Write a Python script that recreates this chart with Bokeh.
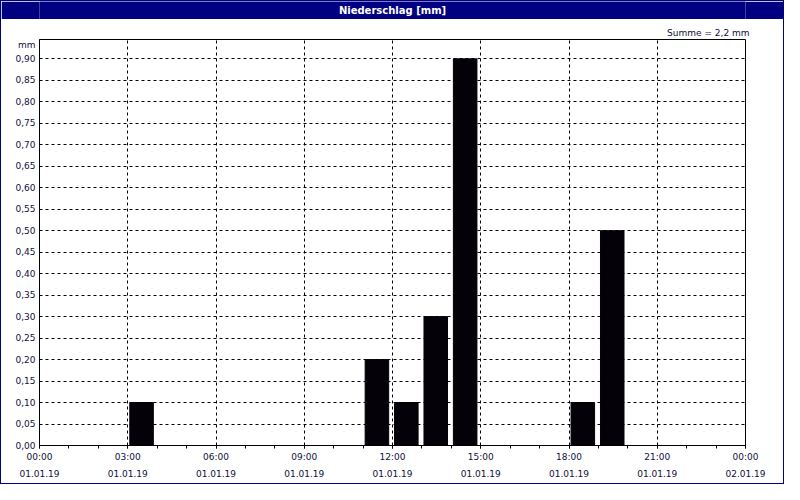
from bokeh.plotting import figure
from bokeh.models import Range1d, FixedTicker, Label
from bokeh.layouts import column
from bokeh.embed import file_html
from bokeh.resources import INLINE

# ---- data ----
hour_start = [3, 11, 12, 13, 14, 18, 19]          # start hour of each hourly interval
precip_mm = [0.10, 0.20, 0.10, 0.30, 0.90, 0.10, 0.50]

x_ticks = [0, 3, 6, 9, 12, 15, 18, 21, 24]
x_time_labels = ["00:00", "03:00", "06:00", "09:00", "12:00", "15:00", "18:00", "21:00", "00:00"]
x_date_labels = ["01.01.19"] * 8 + ["02.01.19"]
minor_hours = list(range(0, 25))

y_ticks = [round(i * 0.05, 2) for i in range(19)]
y_labels = [f"{v:.2f}".replace(".", ",") for v in y_ticks]

title_text = "Niederschlag [mm]"
unit_text = "mm"
unit_pos = 0.933

FONT = "DejaVu Sans"
TXT = "#10103a"
NAVY = "#000080"
BAR = "#040208"

# ---- title bar ----
t = figure(width=782, height=18, x_range=Range1d(0, 1), y_range=Range1d(0, 1),
           x_axis_type=None, y_axis_type=None, toolbar_location=None,
           output_backend="svg", min_border=0,
           background_fill_color=NAVY, border_fill_color=NAVY, outline_line_color=None)
t.xgrid.visible = False
t.ygrid.visible = False
t.add_layout(Label(x=0.5, y=0.5, text=title_text, text_align="center", text_baseline="middle",
                   text_color="white", text_font=FONT, text_font_size="10px",
                   text_font_style="bold"))

# ---- main chart ----
total = sum(precip_mm)
sum_text = "Summe = " + f"{total:.1f}".replace(".", ",") + " mm"

p = figure(width=782, height=464, x_range=Range1d(0, 24), y_range=Range1d(0, 0.945),
           toolbar_location=None, output_backend="svg",
           min_border_left=38, min_border_right=38, min_border_top=20, min_border_bottom=38,
           background_fill_color="white", border_fill_color="white",
           outline_line_color="black", outline_line_width=1)

p.title.text = sum_text
p.title.align = "right"
p.title.offset = -4
p.title.standoff = 4
p.title.text_font = FONT
p.title.text_font_size = "9px"
p.title.text_font_style = "normal"
p.title.text_color = TXT

centers = [h + 0.47 for h in hour_start]
p.vbar(x=centers, top=precip_mm, width=0.8, bottom=0, fill_color=BAR, line_color=BAR)

# x axis
p.xaxis.ticker = FixedTicker(ticks=x_ticks, minor_ticks=minor_hours)
p.xaxis.major_label_overrides = {tk: f"{a}\n{b}" for tk, a, b in zip(x_ticks, x_time_labels, x_date_labels)}
p.xaxis.major_tick_in = 0
p.xaxis.major_tick_out = 3
p.xaxis.minor_tick_in = 0
p.xaxis.minor_tick_out = 3
p.xaxis.major_tick_line_color = "black"
p.xaxis.minor_tick_line_color = "black"
p.xaxis.axis_line_color = "black"
p.xaxis.major_label_standoff = 3
p.xaxis.major_label_text_font = FONT
p.xaxis.major_label_text_font_size = "9px"
p.xaxis.major_label_text_color = TXT
p.xaxis.major_label_text_line_height = 1.75

# y axis (extra tick carries the unit label)
y_axis_ticks = y_ticks + [unit_pos]
y_axis_labels = y_labels + [unit_text]
p.yaxis.ticker = FixedTicker(ticks=y_axis_ticks)
p.yaxis.major_label_overrides = {tk: lb for tk, lb in zip(y_axis_ticks, y_axis_labels)}
p.yaxis.major_tick_in = 0
p.yaxis.major_tick_out = 0
p.yaxis.minor_tick_line_color = None
p.yaxis.axis_line_color = "black"
p.yaxis.major_label_standoff = 4
p.yaxis.major_label_text_font = FONT
p.yaxis.major_label_text_font_size = "9px"
p.yaxis.major_label_text_color = TXT

# grids
p.xgrid.ticker = FixedTicker(ticks=x_ticks)
p.ygrid.ticker = FixedTicker(ticks=y_ticks)
for g in (p.xgrid, p.ygrid):
    g.grid_line_color = "black"
    g.grid_line_dash = "3 3"
    g.grid_line_width = 1
    g.grid_line_alpha = 1.0

layout = column(t, p, spacing=0, styles={"border": "1px solid #000080"})

open("out.html", "w").write(file_html(layout, INLINE))
